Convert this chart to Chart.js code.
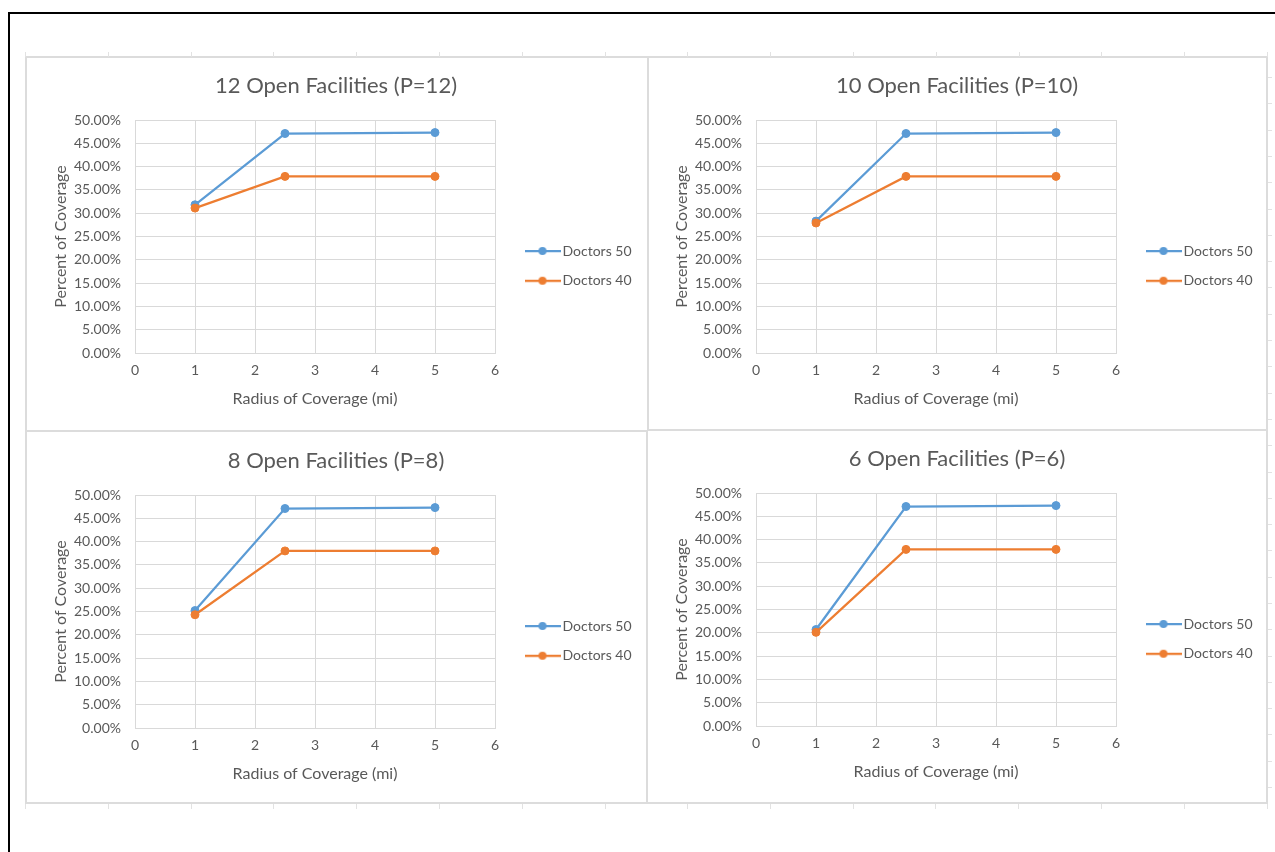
<!DOCTYPE html>
<html>
<head>
<meta charset="utf-8">
<title>Coverage by Radius</title>
<script src="https://cdn.jsdelivr.net/npm/chart.js@4.4.1/dist/chart.umd.min.js"></script>
<style>
  html, body { margin: 0; padding: 0; background: #ffffff; }
  body { width: 1275px; height: 852px; position: relative; overflow: hidden; font-family: Lato, "Open Sans", sans-serif; }
  .rule { position: absolute; background: #000000; }
  .line { position: absolute; background: #dcdcdc; }
  .tick { position: absolute; background: #e2e2e2; }
  canvas.panel { position: absolute; }
</style>
</head>
<body>
<!-- sheet edges -->
<div class="rule" style="left:8px; top:12px; width:1267px; height:2px;"></div>
<div class="rule" style="left:8px; top:12px; width:2px; height:840px;"></div>

<!-- panel frame -->
<div class="line" style="left:25px; top:56px; width:1243px; height:2px;"></div>
<div class="line" style="left:25px; top:802px; width:1243px; height:2px;"></div>
<div class="line" style="left:25px; top:56px; width:2px; height:748px;"></div>
<div class="line" style="left:1266px; top:56px; width:2px; height:748px;"></div>
<div class="line" style="left:647px; top:56px; width:2px; height:375px;"></div>
<div class="line" style="left:646px; top:430px; width:2px; height:374px;"></div>
<div class="line" style="left:25px; top:430px; width:623px; height:2px;"></div>
<div class="line" style="left:648px; top:429px; width:620px; height:2px;"></div>

<canvas id="chartP12" class="panel" width="622" height="372" style="left:25px; top:57px;"></canvas>
<canvas id="chartP10" class="panel" width="622" height="372" style="left:646px; top:57px;"></canvas>
<canvas id="chartP8"  class="panel" width="622" height="372" style="left:25px; top:432px;"></canvas>
<canvas id="chartP6"  class="panel" width="622" height="372" style="left:646px; top:430px;"></canvas>

<script>
// ---- data ----
const radiusMiles = [1, 2.5, 5];
const seriesNames = ['Doctors 50', 'Doctors 40'];
const panelTitles = [
  '12 Open Facilities (P=12)',
  '10 Open Facilities (P=10)',
  '8 Open Facilities (P=8)',
  '6 Open Facilities (P=6)'
];
// percent of coverage for each radius
const doctors50P12 = [31.8, 47.1, 47.3];
const doctors40P12 = [31.1, 37.9, 37.9];
const doctors50P10 = [28.3, 47.1, 47.3];
const doctors40P10 = [27.9, 37.9, 37.9];
const doctors50P8  = [25.2, 47.1, 47.3];
const doctors40P8  = [24.3, 38.0, 38.0];
const doctors50P6  = [20.7, 47.1, 47.3];
const doctors40P6  = [20.1, 37.9, 37.9];
// axis ticks
const percentTicks = [0, 5, 10, 15, 20, 25, 30, 35, 40, 45, 50];
const radiusTicks = [0, 1, 2, 3, 4, 5, 6];
const xAxisTitle = 'Radius of Coverage (mi)';
const yAxisTitle = 'Percent of Coverage';

// ---- styling ----
const SERIES_COLORS = ['#5B9BD5', '#ED7D31'];
const TEXT_COLOR = '#595959';
const GRID_COLOR = '#d9d9d9';
const FONT_FAMILY = 'Lato, "Open Sans", sans-serif';

// decorative cell ticks around the frame
(function drawFrameTicks() {
  const add = (l, t, w, h) => {
    const d = document.createElement('div');
    d.className = 'tick';
    d.style.cssText = `left:${l}px;top:${t}px;width:${w}px;height:${h}px;`;
    document.body.appendChild(d);
  };
  for (let k = 0; k <= 15; k++) add(Math.round(25 + k * 82.8), 52, 1, 5);
  for (let k = 0; k <= 7; k++) add(Math.round(25 + k * 82.8), 804, 1, 5);
  for (let k = 0; k <= 7; k++) add(Math.round(687 + k * 82.8), 804, 1, 5);
  for (let y = 77; y < 800; y += 26.3) add(1268, Math.round(y), 4, 1);
})();

// legend swatch: a short line with a round marker in the middle
function makeSwatch(color) {
  const c = document.createElement('canvas');
  c.width = 36; c.height = 10;
  const g = c.getContext('2d');
  g.strokeStyle = color; g.lineWidth = 2.25;
  g.beginPath(); g.moveTo(0, 5); g.lineTo(36, 5); g.stroke();
  g.fillStyle = color;
  g.beginPath(); g.arc(18, 5, 4, 0, Math.PI * 2); g.fill();
  return c;
}
const swatches = SERIES_COLORS.map(makeSwatch);

// fixes the width of the right-hand legend and nudges it into place
const legendPlacement = {
  id: 'legendPlacement',
  beforeLayout(chart, args, opts) {
    const lg = chart.legend;
    if (lg && !lg._fixedWidth) {
      const fit = lg.fit;
      lg.fit = function () { fit.call(this); this.width = opts.width; };
      lg._fixedWidth = true;
    }
  },
  afterLayout(chart, args, opts) {
    const lg = chart.legend;
    if (!lg) return;
    lg.left += opts.dx; lg.right += opts.dx;
    lg.top += opts.dy; lg.bottom += opts.dy;
  }
};

function buildChart(canvasId, title, seriesA, seriesB) {
  const seriesData = [seriesA, seriesB];
  const datasets = seriesData.map((vals, i) => ({
    label: seriesNames[i],
    data: radiusMiles.map((x, j) => ({ x: x, y: vals[j] })),
    borderColor: SERIES_COLORS[i],
    backgroundColor: SERIES_COLORS[i],
    pointBackgroundColor: SERIES_COLORS[i],
    pointBorderColor: SERIES_COLORS[i],
    pointRadius: 4,
    pointBorderWidth: 1,
    borderWidth: 2.25,
    tension: 0,
    fill: false,
    order: i === 0 ? 1 : 0
  }));

  return new Chart(document.getElementById(canvasId), {
    type: 'line',
    data: { datasets },
    options: {
      responsive: false,
      animation: false,
      devicePixelRatio: 1,
      layout: { padding: 0 },
      scales: {
        x: {
          type: 'linear',
          min: 0, max: 6,
          afterBuildTicks: s => { s.ticks = radiusTicks.map(v => ({ value: v })); },
          afterFit: s => { s.height = 76; },
          grid: { color: GRID_COLOR, lineWidth: 1, drawTicks: false },
          border: { color: GRID_COLOR, width: 1 },
          ticks: { color: TEXT_COLOR, font: { family: FONT_FAMILY, size: 14 }, padding: 9, maxRotation: 0 },
          title: {
            display: true, text: xAxisTitle, color: TEXT_COLOR,
            font: { family: FONT_FAMILY, size: 16 },
            padding: { top: 0, bottom: 21 }
          }
        },
        y: {
          min: 0, max: 50,
          afterBuildTicks: s => { s.ticks = percentTicks.map(v => ({ value: v })); },
          afterFit: s => { s.width = 110; },
          grid: { color: GRID_COLOR, lineWidth: 1, drawTicks: false },
          border: { color: GRID_COLOR, width: 1 },
          ticks: {
            color: TEXT_COLOR, font: { family: FONT_FAMILY, size: 14 }, padding: 14,
            callback: v => v.toFixed(2) + '%'
          },
          title: {
            display: true, text: yAxisTitle, color: TEXT_COLOR,
            font: { family: FONT_FAMILY, size: 16 },
            padding: { top: 26, bottom: 0 }
          }
        }
      },
      plugins: {
        title: {
          display: true, text: title, color: TEXT_COLOR,
          font: { family: FONT_FAMILY, size: 22, weight: 'normal' },
          padding: { top: 15.8, bottom: 20.8 }
        },
        legend: {
          position: 'right',
          align: 'center',
          labels: {
            usePointStyle: true,
            pointStyleWidth: 26,
            padding: 15.7,
            color: TEXT_COLOR,
            font: { family: FONT_FAMILY, size: 14 },
            generateLabels: chart => chart.data.datasets.map((ds, i) => ({
              text: ds.label,
              fillStyle: ds.borderColor,
              strokeStyle: ds.borderColor,
              fontColor: TEXT_COLOR,
              lineWidth: 0,
              pointStyle: swatches[i],
              hidden: false,
              datasetIndex: i
            }))
          }
        },
        legendPlacement: { width: 152, dx: 18.8, dy: 22.85 },
        tooltip: { enabled: false }
      }
    },
    plugins: [legendPlacement]
  });
}

buildChart('chartP12', panelTitles[0], doctors50P12, doctors40P12);
buildChart('chartP10', panelTitles[1], doctors50P10, doctors40P10);
buildChart('chartP8',  panelTitles[2], doctors50P8,  doctors40P8);
buildChart('chartP6',  panelTitles[3], doctors50P6,  doctors40P6);
</script>
</body>
</html>
